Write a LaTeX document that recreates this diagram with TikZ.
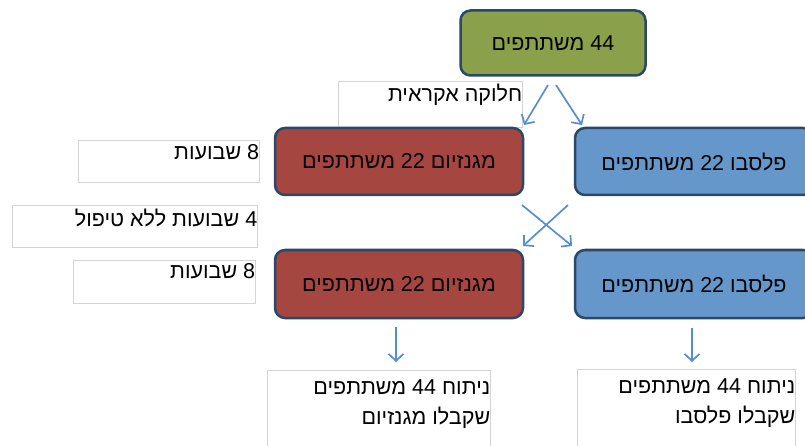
\documentclass[tikz,border=0pt]{standalone}
\usepackage{fontspec}
\newfontfamily\heb[Script=Hebrew]{Liberation Sans}
\TeXXeTstate=1
\usetikzlibrary{arrows.meta}
\definecolor{gfill}{RGB}{138,160,74}
\definecolor{rfill}{RGB}{166,70,65}
\definecolor{bfill}{RGB}{101,151,203}
\definecolor{bord}{RGB}{44,72,104}
\definecolor{arr}{RGB}{84,142,204}
\definecolor{tbord}{RGB}{212,212,212}
\tikzset{
  mainbox/.style={draw=bord, line width=2.5pt, rounded corners=10pt, inner sep=0pt,
    font=\heb\fontsize{21.5}{26}\selectfont},
  notebox/.style={draw=tbord, line width=0.8pt, fill=white, inner sep=0pt},
  notetext/.style={font=\heb\fontsize{21.5}{30}\selectfont, inner sep=1pt, align=right},
  flow/.style={draw=arr, line width=1.7pt, -{Straight Barb[length=7pt,width=15pt,line width=1.7pt]}}
}
\begin{document}
\begin{tikzpicture}[x=1pt,y=-1pt]
\useasboundingbox (0,0) rectangle (805,446);
\clip (0,0) rectangle (805,446);
% top
\node[mainbox, fill=gfill, minimum width=185pt, minimum height=65pt] (top) at (553,43) {\beginR 44 משתתפים\endR};
% random split note
\node[notebox, minimum width=184pt, minimum height=46pt] (splitbox) at (430,104) {};
\node[notetext, anchor=north east] (splittext) at ([xshift=1pt,yshift=-2pt]splitbox.north east) {\beginR חלוקה אקראית\endR};
% row 1
\node[mainbox, fill=rfill, minimum width=248pt, minimum height=67pt] (mag1) at (399,161.5) {\beginR מגנזיום 22 משתתפים\endR};
\node[mainbox, fill=bfill, minimum width=238pt, minimum height=67pt] (pla1) at (694,161.5) {\beginR פלסבו 22 משתתפים\endR};
% row 2
\node[mainbox, fill=rfill, minimum width=248pt, minimum height=68pt] (mag2) at (399,284) {\beginR מגנזיום 22 משתתפים\endR};
\node[mainbox, fill=bfill, minimum width=238pt, minimum height=68pt] (pla2) at (694,284) {\beginR פלסבו 22 משתתפים\endR};
% left notes
\node[notebox, minimum width=181pt, minimum height=42pt] (w1) at (168.5,161) {};
\node[notetext, anchor=north east] (w1t) at ([xshift=1pt,yshift=-4pt]w1.north east) {\beginR 8 שבועות\endR};
\node[notebox, minimum width=245pt, minimum height=42pt] (w0) at (134.5,226) {};
\node[notetext, anchor=north east] (w0t) at ([xshift=1pt,yshift=-3pt]w0.north east) {\beginR 4 שבועות ללא טיפול\endR};
\node[notebox, minimum width=182pt, minimum height=43pt] (w2) at (164,281.5) {};
\node[notetext, anchor=north east] (w2t) at ([xshift=1pt,yshift=-3pt]w2.north east) {\beginR 8 שבועות\endR};
% bottom analyses
\node[notebox, minimum width=223pt, minimum height=100pt] (an1) at (378.5,420) {};
\node[notetext, anchor=north east] (an1t) at ([xshift=1pt,yshift=-9pt]an1.north east) {\beginR ניתוח 44 משתתפים\endR\\\beginR שקבלו מגנזיום\endR};
\node[notebox, minimum width=218pt, minimum height=100pt] (an2) at (686,419) {};
\node[notetext, anchor=north east] (an2t) at ([xshift=1pt,yshift=-9pt]an2.north east) {\beginR ניתוח 44 משתתפים\endR\\\beginR שקבלו פלסבו\endR};
% connector points
\coordinate (s1) at (548,85); \coordinate (e1) at (524,125);
\coordinate (s2) at (556,85); \coordinate (e2) at (582,125);
\coordinate (c1) at (522,205); \coordinate (d1) at (572,246);
\coordinate (c2) at (568,205); \coordinate (d2) at (523,246);
\coordinate (b1) at (396,327); \coordinate (f1) at (396,362);
\coordinate (b2) at (692,328); \coordinate (f2) at (692,362);
\draw[flow] (s1) -- (e1);
\draw[flow] (s2) -- (e2);
\draw[flow] (c1) -- (d1);
\draw[flow] (c2) -- (d2);
\draw[flow] (b1) -- (f1);
\draw[flow] (b2) -- (f2);
\end{tikzpicture}
\end{document}
